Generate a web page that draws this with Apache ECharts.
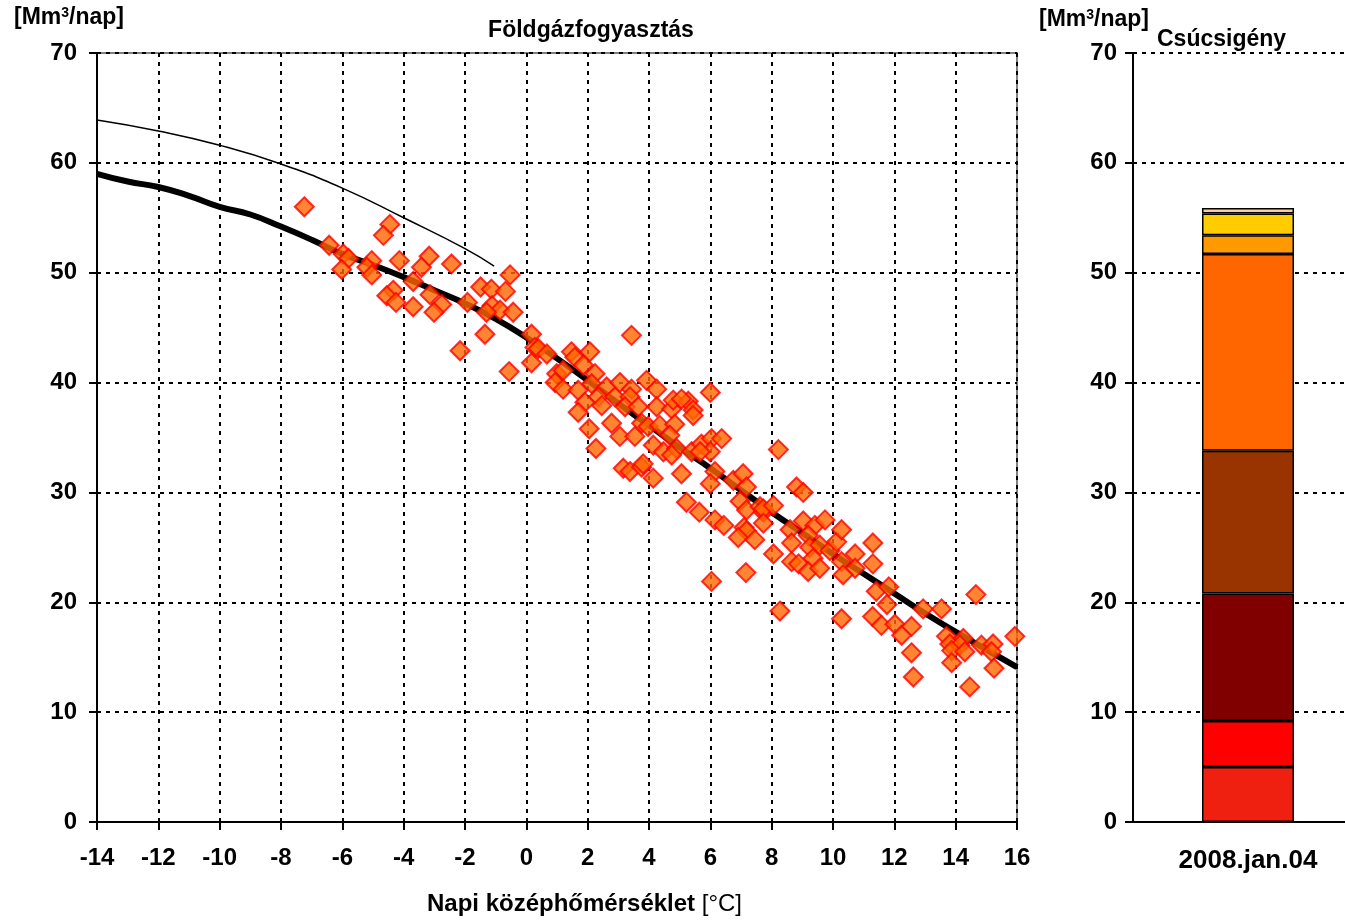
<!DOCTYPE html>
<html>
<head>
<meta charset="utf-8">
<title>Földgázfogyasztás</title>
<script src="https://cdn.jsdelivr.net/npm/echarts@6/dist/echarts.min.js"></script>
<style>
  html, body { margin: 0; padding: 0; background: #fff; }
  #chart { width: 1345px; height: 920px; }
</style>
</head>
<body>
<div id="chart"></div>
<script>
// napi fogyasztas meresek: [homerseklet, Mm3/nap]
const measured = [
  [-7.24, 56.0], [-4.45, 54.4], [-4.66, 53.4], [-6.43, 52.5], [-5.97, 51.7], [-5.8, 51.3],
  [-6.02, 50.3], [-5.04, 51.1], [-5.2, 50.5], [-5.04, 49.8], [-4.14, 51.1], [-3.17, 51.5],
  [-3.42, 50.5], [-2.44, 50.8], [-3.69, 49.2], [-4.34, 48.4], [-4.55, 47.9], [-4.25, 47.3],
  [-3.14, 48.0], [-2.76, 47.1], [-3.01, 46.4], [-3.69, 46.9], [-1.92, 47.3], [-0.53, 49.8],
  [-1.49, 48.7], [-1.14, 48.5], [-0.68, 48.3], [-1.12, 47.0], [-0.86, 46.6], [-1.3, 46.4],
  [-0.43, 46.4], [-1.35, 44.4], [-2.16, 42.9], [-0.56, 41.0], [0.17, 44.4], [0.28, 43.2],
  [0.17, 41.8], [0.39, 43.1], [0.67, 42.6], [3.43, 44.3], [1.47, 42.8], [1.58, 42.3],
  [2.07, 42.8], [1.86, 41.6], [0.99, 40.8], [1.2, 41.1], [0.94, 40.0], [1.2, 39.4],
  [2.24, 40.8], [2.13, 39.9], [1.69, 39.3], [2.62, 39.6], [2.35, 38.7], [1.91, 38.2],
  [1.69, 37.3], [2.46, 37.9], [2.89, 38.7], [3.05, 40.0], [3.43, 39.4], [3.38, 38.7],
  [3.22, 37.8], [3.65, 37.8], [3.92, 40.2], [4.25, 39.4], [6.0, 39.1], [4.25, 37.8],
  [4.74, 37.6], [4.79, 38.4], [5.28, 38.3], [5.44, 37.5], [5.44, 37.0], [5.06, 38.5],
  [2.05, 35.8], [2.78, 36.3], [3.05, 35.1], [3.54, 35.1], [3.76, 36.3], [3.97, 36.0],
  [4.35, 36.1], [4.84, 36.2], [4.68, 35.2], [4.14, 34.3], [4.47, 33.7], [4.9, 34.0],
  [4.74, 33.4], [2.27, 34.0], [3.16, 32.2], [3.38, 31.9], [3.76, 32.3], [3.81, 32.6],
  [4.14, 31.3], [5.06, 31.7], [5.39, 33.7], [5.71, 34.4], [6.04, 34.9], [6.37, 34.9],
  [6.0, 33.7], [5.67, 33.7], [6.15, 31.9], [6.0, 30.8], [6.75, 31.1], [7.07, 31.7],
  [7.18, 30.5], [5.22, 29.1], [6.97, 29.2], [7.18, 28.4], [7.62, 28.7], [7.73, 28.2],
  [8.22, 33.9], [8.81, 30.5], [9.03, 30.0], [5.64, 28.2], [6.15, 27.5], [6.44, 27.0],
  [7.73, 28.5], [8.06, 28.8], [7.73, 27.2], [7.1, 26.8], [7.18, 26.5], [6.91, 25.9],
  [7.45, 25.7], [8.06, 24.4], [6.04, 21.9], [7.16, 22.7], [8.27, 19.2], [8.6, 26.6],
  [8.65, 25.4], [9.03, 27.4], [9.41, 27.0], [9.74, 27.5], [9.19, 26.1], [9.24, 25.0],
  [9.57, 25.2], [9.35, 24.0], [8.65, 23.7], [8.88, 23.5], [9.19, 22.8], [9.57, 23.1],
  [9.9, 24.7], [10.12, 25.5], [10.28, 26.6], [10.72, 24.4], [10.28, 23.7], [10.72, 23.1],
  [10.33, 22.5], [11.3, 25.4], [11.3, 23.5], [11.41, 21.0], [11.82, 21.4], [11.76, 19.8],
  [10.28, 18.5], [11.29, 18.7], [11.58, 17.9], [12.02, 18.0], [12.24, 17.0], [12.56, 17.8],
  [12.56, 15.4], [12.62, 13.2], [12.94, 19.4], [13.54, 19.4], [14.66, 20.7], [13.7, 16.9],
  [13.81, 16.2], [14.25, 16.7], [14.14, 16.1], [13.87, 15.6], [14.3, 15.5], [13.87, 14.5],
  [14.84, 16.1], [15.22, 16.2], [15.17, 15.5], [15.25, 14.0], [14.46, 12.3], [15.93, 16.9]
];

// illesztett gorbe (vastag)
const fitTemps = [-14, -13, -12, -11, -10, -9, -8, -7, -6, -5, -4, -3, -2, -1, 0, 1, 2, 3, 4, 5, 6, 7, 8, 9, 10, 11, 12, 13, 14, 15, 16];
const fitValues = [59.0, 58.3, 57.8, 57.0, 56.0, 55.3, 54.2, 53.0, 51.7, 50.7, 49.6, 48.4, 47.2, 45.8, 44.1, 42.2, 40.2, 38.1, 36.1, 34.1, 32.2, 30.2, 28.2, 26.3, 24.4, 22.6, 20.8, 19.0, 17.3, 15.7, 14.1];

// extrem hideg gorbe (vekony)
const coldTemps = [-14, -12, -10, -8, -6, -4, -2, -1.05];
const coldValues = [63.9, 62.9, 61.6, 59.9, 57.7, 55.0, 52.2, 50.6];

// csucsigeny oszlop retegei
const peakCategory = ['2008.jan.04'];
const peakLayers = [5.0, 4.2, 11.6, 13.0, 17.9, 1.7, 2.0, 0.5];
const peakColors = ['#f02010', '#ff0000', '#800000', '#993300', '#ff6600', '#ff9900', '#ffcc00', '#ffcc99'];

const xTicks = [-14, 16, 2];
const yTicks = [0, 70, 10];

const FONT = '"Liberation Sans", Arial, sans-serif';
const labelStyle = { color: '#000', fontFamily: FONT, fontWeight: 'bold', fontSize: 24 };
const gridDash = { color: '#000', type: [4, 5], width: 2 };

const chart = echarts.init(document.getElementById('chart'));

const unitRich = {
  b: { fontFamily: FONT, fontWeight: 'bold', fontSize: 23, color: '#000' },
  sup: { fontFamily: FONT, fontWeight: 'bold', fontSize: 14, color: '#000', verticalAlign: 'top', padding: [0, 0, 10, 0] }
};

chart.setOption({
  animation: false,
  backgroundColor: '#fff',
  title: [
    { text: 'Földgázfogyasztás', left: 586, top: 14, textAlign: 'center',
      textStyle: { fontFamily: FONT, fontWeight: 'bold', fontSize: 23, color: '#000' } },
    { text: 'Csúcsigény', left: 1152, top: 23,
      textStyle: { fontFamily: FONT, fontWeight: 'bold', fontSize: 23, color: '#000' } }
  ],
  graphic: [
    { type: 'text', left: 14, top: 6,
      style: { text: '{b|[Mm}{sup|3}{b|/nap]}', rich: unitRich } },
    { type: 'text', left: 1039, top: 8,
      style: { text: '{b|[Mm}{sup|3}{b|/nap]}', rich: unitRich } },
    { type: 'text', left: 427, top: 892,
      style: {
        text: '{b|Napi középhőmérséklet}  {n|[°C]}',
        rich: {
          b: { fontFamily: FONT, fontWeight: 'bold', fontSize: 24, color: '#000' },
          n: { fontFamily: FONT, fontSize: 24, color: '#000' }
        }
      } }
  ],
  grid: [
    { left: 97, right: 328, top: 53, bottom: 98, show: true, borderColor: '#808080', borderWidth: 2,
      outerBoundsMode: 'none' },
    { left: 1133, width: 230, top: 53, bottom: 98, outerBoundsMode: 'none' }
  ],
  xAxis: [
    { type: 'value', gridIndex: 0, min: xTicks[0], max: xTicks[1], interval: xTicks[2],
      axisLine: { onZero: false, lineStyle: { color: '#000', width: 2 } },
      axisTick: { show: true, length: 8, lineStyle: { color: '#000', width: 2 } },
      axisLabel: Object.assign({ margin: 24 }, labelStyle),
      splitLine: { show: true, lineStyle: gridDash } },
    { type: 'category', gridIndex: 1, data: peakCategory,
      axisLine: { onZero: false, lineStyle: { color: '#000', width: 2 } },
      axisTick: { show: false },
      axisLabel: Object.assign({}, labelStyle, { margin: 26, fontSize: 26 }) }
  ],
  yAxis: [
    { type: 'value', gridIndex: 0, min: yTicks[0], max: yTicks[1], interval: yTicks[2],
      axisLine: { show: true, onZero: false, lineStyle: { color: '#000', width: 2 } },
      axisTick: { show: true, length: 8, lineStyle: { color: '#000', width: 2 } },
      axisLabel: Object.assign({ margin: 20 }, labelStyle),
      splitLine: { show: true, lineStyle: gridDash } },
    { type: 'value', gridIndex: 1, min: yTicks[0], max: yTicks[1], interval: yTicks[2],
      axisLine: { show: true, onZero: false, lineStyle: { color: '#000', width: 2 } },
      axisTick: { show: true, length: 8, lineStyle: { color: '#000', width: 2 } },
      axisLabel: Object.assign({ margin: 16 }, labelStyle),
      splitLine: { show: true, lineStyle: gridDash } }
  ],
  series: [
    {
      type: 'line', xAxisIndex: 0, yAxisIndex: 0, smooth: true, symbol: 'none', z: 3,
      data: coldTemps.map((t, i) => [t, coldValues[i]]),
      lineStyle: { color: '#000', width: 1.5 }
    },
    {
      type: 'line', xAxisIndex: 0, yAxisIndex: 0, smooth: true, symbol: 'none', z: 3,
      data: fitTemps.map((t, i) => [t, fitValues[i]]),
      lineStyle: { color: '#000', width: 6 }
    },
    {
      type: 'scatter', xAxisIndex: 0, yAxisIndex: 0, symbol: 'diamond', symbolSize: 19, z: 4,
      data: measured,
      itemStyle: { color: '#ff6600', borderColor: '#ff0000', borderWidth: 2 }
    }
  ].concat(peakLayers.map((v, i) => ({
    type: 'bar', xAxisIndex: 1, yAxisIndex: 1, stack: 'peak', barWidth: 92,
    data: [v],
    itemStyle: { color: peakColors[i], borderColor: '#000', borderWidth: 1.5 }
  })))
});
</script>
</body>
</html>
